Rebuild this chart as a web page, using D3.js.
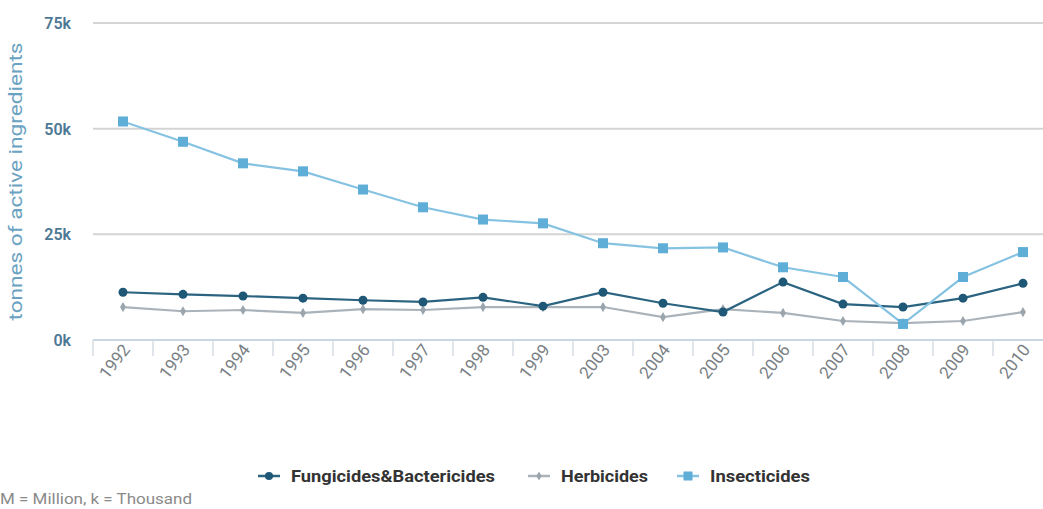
<!DOCTYPE html>
<html>
<head>
<meta charset="utf-8">
<script src="https://cdn.jsdelivr.net/npm/d3@7"></script>
<style>
  html, body { margin: 0; padding: 0; background: #fff; }
  svg { display: block; font-family: Roboto, "Open Sans", sans-serif; }
</style>
</head>
<body>
<svg id="chart" width="1043" height="509"></svg>
<script>
// Pesticide use, tonnes of active ingredients
const years = ["1992","1993","1994","1995","1996","1997","1998","1999","2003","2004","2005","2006","2007","2008","2009","2010"];
const fungicides  = [11.3, 10.8, 10.4, 9.9, 9.4, 9.0, 10.1, 8.0, 11.3, 8.7, 6.6, 13.7, 8.5, 7.8, 9.9, 13.4];
const herbicides  = [7.8, 6.8, 7.1, 6.4, 7.3, 7.1, 7.8, 7.8, 7.8, 5.4, 7.3, 6.4, 4.5, 4.0, 4.5, 6.6];
const insecticides = [51.7, 46.9, 41.8, 39.9, 35.6, 31.4, 28.5, 27.6, 22.9, 21.7, 21.9, 17.2, 14.9, 3.8, 14.9, 20.8];
const yTicks = [0, 25, 50, 75];
const seriesNames = ["Fungicides&Bactericides", "Herbicides", "Insecticides"];

const series = [
  { name: seriesNames[0], values: fungicides,   line: "#2b6480", fill: "#1f5876", shape: "circle",  size: 9 },
  { name: seriesNames[1], values: herbicides,   line: "#aab3ba", fill: "#9aa5ad", shape: "diamond", size: 5 },
  { name: seriesNames[2], values: insecticides, line: "#86c3e2", fill: "#5eaed8", shape: "square",  size: 10 }
];

const svg = d3.select("#chart");
const m = { left: 93, top: 23, bottom: 340 };

const x = d3.scaleBand().domain(years).range([m.left, m.left + 60 * years.length]).padding(0);
const y = d3.scaleLinear().domain([0, 75]).range([m.bottom, m.top]);

// horizontal gridlines
svg.append("g").selectAll("line").data(yTicks.filter(d => d > 0)).join("line")
  .attr("x1", m.left).attr("x2", 1043)
  .attr("y1", d => y(d)).attr("y2", d => y(d))
  .attr("stroke", "#d4d4d4").attr("stroke-width", 2);

// y axis labels
svg.append("g").selectAll("text").data(yTicks).join("text")
  .attr("x", 71).attr("y", d => y(d) + 6)
  .attr("text-anchor", "end")
  .attr("fill", "#4d7894").attr("font-size", 16).attr("font-weight", 600)
  .text(d => d + "k");

// y axis title
svg.append("text")
  .attr("transform", `translate(22,${(m.top + m.bottom) / 2 + 0}) rotate(-90)`)
  .attr("text-anchor", "middle")
  .attr("fill", "#6aa2c2").attr("font-size", 18.5)
  .attr("textLength", 278).attr("lengthAdjust", "spacingAndGlyphs")
  .text("tonnes of active ingredients");

// x axis
const xAxis = svg.append("g").attr("transform", `translate(0,${m.bottom})`);
xAxis.append("line").attr("x1", m.left).attr("x2", 1043).attr("stroke", "#c9d6e3").attr("stroke-width", 2);
xAxis.selectAll("line.tick").data(years).join("line").attr("class", "tick")
  .attr("x1", d => x(d)).attr("x2", d => x(d))
  .attr("y1", 0).attr("y2", 16)
  .attr("stroke", "#d6dde4").attr("stroke-width", 1.5);
xAxis.selectAll("text").data(years).join("text")
  .attr("transform", d => `translate(${x(d) + x.bandwidth() / 2 + 8},${10}) rotate(-52)`)
  .attr("text-anchor", "end")
  .attr("fill", "#7a7f85").attr("font-size", 17)
  .text(d => d);

const line = d3.line().x((d, i) => x(years[i]) + x.bandwidth() / 2).y(d => y(d));

function drawMarker(g, shape, size, color) {
  if (shape === "circle") g.append("circle").attr("r", size / 2).attr("fill", color);
  else if (shape === "square") g.append("rect").attr("x", -size / 2).attr("y", -size / 2).attr("width", size).attr("height", size).attr("fill", color);
  else g.append("path").attr("d", d3.symbol(d3.symbolDiamond, size * size * 1.2)()).attr("fill", color);
}

// draw series: herbicides beneath, then fungicides, insecticides on top
[series[1], series[0], series[2]].forEach(s => {
  const g = svg.append("g");
  g.append("path").datum(s.values).attr("d", line)
    .attr("fill", "none").attr("stroke", s.line).attr("stroke-width", 2.2);
  s.values.forEach((v, i) => {
    const mk = g.append("g").attr("transform", `translate(${x(years[i]) + x.bandwidth() / 2},${y(v)})`);
    drawMarker(mk, s.shape, s.size, s.fill);
  });
});

// legend
const legendX = [258, 528, 677];
series.forEach((s, i) => {
  const g = svg.append("g").attr("transform", `translate(${legendX[i]},476)`);
  g.append("line").attr("x1", 0).attr("x2", 22).attr("stroke", s.line).attr("stroke-width", 2.5);
  const mk = g.append("g").attr("transform", "translate(11,0)");
  drawMarker(mk, s.shape, s.size * 0.9, s.fill);
  g.append("text").attr("x", 33).attr("y", 6)
    .attr("fill", "#333").attr("font-size", 16.5).attr("font-weight", 700)
    .attr("textLength", [204, 87, 100][i]).attr("lengthAdjust", "spacingAndGlyphs")
    .text(s.name);
});

// footnote
svg.append("text").attr("x", 0).attr("y", 504)
  .attr("fill", "#8a8a8a").attr("font-size", 15)
  .attr("textLength", 192).attr("lengthAdjust", "spacingAndGlyphs")
  .text("M = Million, k = Thousand");
</script>
</body>
</html>
